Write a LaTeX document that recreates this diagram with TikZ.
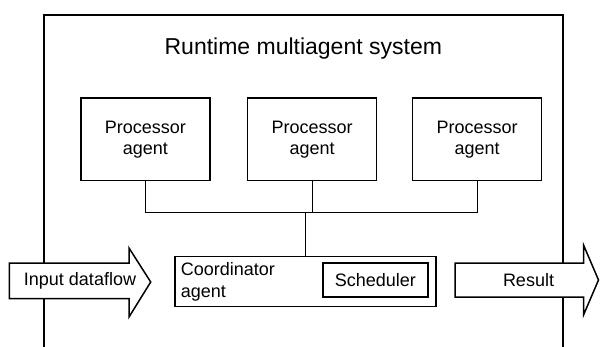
\documentclass[tikz,border=0pt]{standalone}
\usepackage{fontspec}
\setmainfont{Liberation Sans}
\usetikzlibrary{calc,positioning}

\begin{document}
\begin{tikzpicture}[
    x=1pt, y=-1pt,
    font=\fontsize{18}{21.5}\selectfont,
    frame/.style={line width=1.1pt},
    box/.style={draw, line width=1.5pt, fill=white, inner sep=0pt, align=center},
    pbox/.style={box, minimum width=129pt, minimum height=82.5pt},
    wire/.style={line width=1.3pt},
    flow/.style={draw, line width=1.5pt, fill=white},
]
\useasboundingbox (0,0) rectangle (601,347);

% system frame, open at the bottom
\draw[frame] (44,347) -- (44,15) -- (563,15) -- (563,347);
\node[font=\fontsize{23}{27}\selectfont, anchor=base] (title) at (303.3,55) {Runtime multiagent system};

% processor agents
\foreach \n/\x in {1/145.4, 2/312.2, 3/477.2} {
    \node[pbox] (pa\n) at (\x,139.5) {Processor\\agent};
}

% coordinator with scheduler
\node[box, minimum width=261pt, minimum height=50pt] (coord) at (305.5,281.6) {};
\node[align=left, inner sep=0pt, anchor=west] (ctext) at ($(coord.west)+(6.5,0)$) {Coordinator\\agent};
\node[box, minimum width=105pt, minimum height=34pt] (sched) at (375.3,280) {Scheduler};

% bus
\coordinate (bus) at (305.5,212.5);
\draw[wire] (pa1.south) |- (pa3.south |- bus) -- (pa3.south);
\draw[wire] (pa2.south) -- (pa2.south |- bus);
\draw[wire] (coord.north) -- (coord.north |- bus);

% dataflow arrows
\draw[flow] (9.3,263) -- (129,263) -- (129,248) -- (150.7,282) -- (129,317) -- (129,298.5) -- (9.3,298.5) -- cycle;
\node (input) at (80,281) {Input dataflow};
\draw[flow] (455,263) -- (583.5,263) -- (583.5,245) -- (598.5,280) -- (583.5,315) -- (583.5,297) -- (455,297) -- cycle;
\node (result) at (528.5,280) {Result};
\end{tikzpicture}
\end{document}
